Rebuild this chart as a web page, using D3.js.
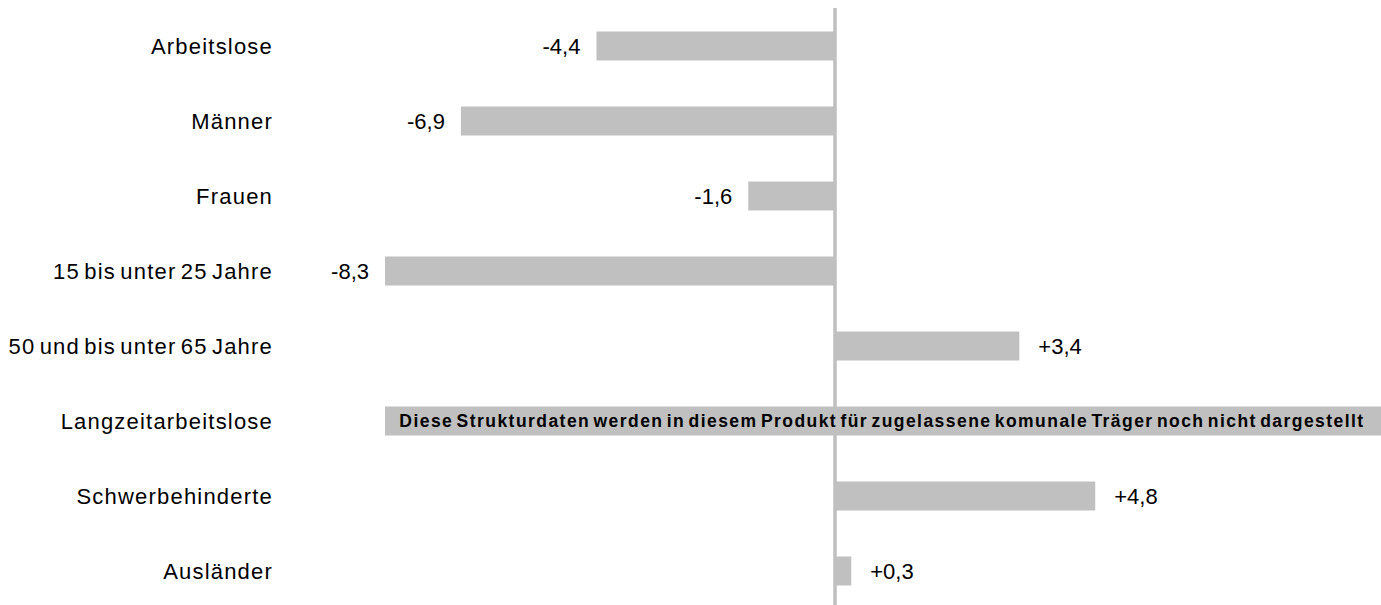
<!DOCTYPE html>
<html>
<head>
<meta charset="utf-8">
<script src="https://cdn.jsdelivr.net/npm/d3@7"></script>
<style>
  body { margin: 0; background: #fff; }
  text { font-family: "Liberation Sans", Arial, sans-serif; fill: #000; }
</style>
</head>
<body>
<svg id="chart"></svg>
<script>
// Diverging bars - change in percent

const width = 1381;
const height = 605;

const categories = ["Arbeitslose", "Männer", "Frauen", "15 bis unter 25 Jahre",
  "50 und bis unter 65 Jahre", "Langzeitarbeitslose", "Schwerbehinderte", "Ausländer"];
const values = [-4.4, -6.9, -1.6, -8.3, 3.4, null, 4.8, 0.3];
const noteCategory = "Langzeitarbeitslose";
const noteText = "Diese Strukturdaten werden in diesem Produkt für zugelassene komunale Träger noch nicht dargestellt";

const data = categories.map((c, i) => ({ cat: c, value: values[i] }));

const svg = d3.select("#chart")
    .attr("width", width)
    .attr("height", height);

const xScale = d3.scaleLinear()
    .domain([-8.3, 0])
    .range([385, 835]);

const yScale = d3.scaleBand()
    .domain(categories)
    .range([8.5, 608.5]);

const barH = 29;
const barY = d => yScale(d.cat) + (yScale.bandwidth() - barH) / 2;
const midY = d => yScale(d.cat) + yScale.bandwidth() / 2;

// plain hyphen, german decimal comma
const fmt = v => (v > 0 ? "+" : "-") + Math.abs(v).toFixed(1).replace(".", ",");

const withValue = data.filter(d => d.value !== null);

// zero line
svg.append("line")
    .attr("x1", xScale(0))
    .attr("x2", xScale(0))
    .attr("y1", 8)
    .attr("y2", height)
    .attr("stroke", "#bfbfbf")
    .attr("stroke-width", 3.5);

svg.selectAll(".bar")
    .data(withValue)
    .enter()
    .append("rect")
    .attr("class", "bar")
    .attr("x", d => xScale(Math.min(0, d.value)))
    .attr("y", barY)
    .attr("width", d => Math.abs(xScale(d.value) - xScale(0)))
    .attr("height", barH)
    .attr("fill", "#c0c0c0");

// note banner for missing data
svg.append("rect")
    .attr("x", xScale(-8.3))
    .attr("y", yScale(noteCategory) + (yScale.bandwidth() - barH) / 2)
    .attr("width", width - xScale(-8.3))
    .attr("height", barH)
    .attr("fill", "#c0c0c0");

svg.append("text")
    .attr("x", 882)
    .attr("y", yScale(noteCategory) + yScale.bandwidth() / 2)
    .attr("dy", "0.35em")
    .style("text-anchor", "middle")
    .style("font-weight", "bold")
    .style("font-size", "17.5px")
    .style("letter-spacing", "1.45px")
    .style("word-spacing", "-3px")
    .text(noteText);

svg.selectAll(".bar-label")
    .data(withValue)
    .enter()
    .append("text")
    .attr("class", "bar-label")
    .attr("x", d => d.value < 0 ? xScale(d.value) - 16 : xScale(d.value) + 19)
    .attr("y", midY)
    .attr("dy", "0.35em")
    .style("text-anchor", d => d.value < 0 ? "end" : "start")
    .style("font-size", "22px")
    .text(d => fmt(d.value));

svg.selectAll(".cat-label")
    .data(data)
    .enter()
    .append("text")
    .attr("class", "cat-label")
    .attr("x", 273)
    .attr("y", midY)
    .attr("dy", "0.35em")
    .style("text-anchor", "end")
    .style("font-size", "22px")
    .style("letter-spacing", "1.2px")
    .style("word-spacing", "-3px")
    .text(d => d.cat);
</script>
</body>
</html>
